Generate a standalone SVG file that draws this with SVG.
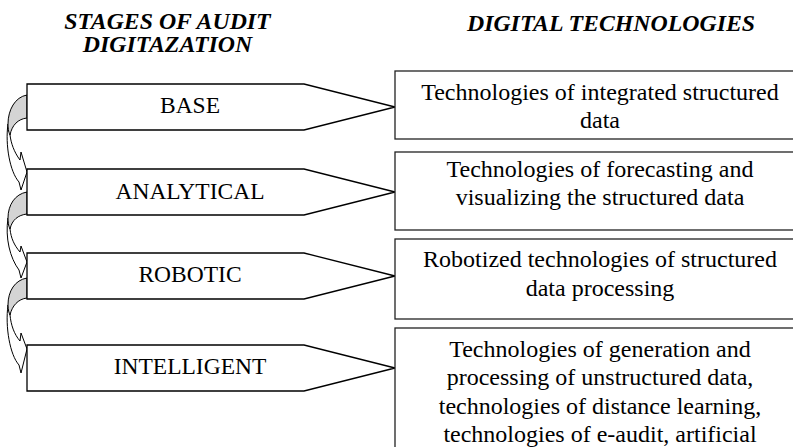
<svg xmlns="http://www.w3.org/2000/svg" width="793" height="447" viewBox="0 0 793 447">
<style>
text{font-family:'Liberation Serif','Times New Roman',serif;fill:#000;text-anchor:middle}
.hdr{font-size:23.8px;font-weight:bold;font-style:italic}
.lbl{font-size:23.5px}
.txt{font-size:24px}
.stage{fill:#fff;stroke:#000;stroke-width:1.3}
.box{fill:#fff;stroke:#222;stroke-width:1.3}
.back{fill:#d4d4d4;stroke:#000;stroke-width:1}
.front{fill:#fff;stroke:#000;stroke-width:1}
</style>
<rect width="793" height="447" fill="#fff"/>
<text class="hdr" x="167.5" y="28.5">STAGES OF AUDIT</text>
<text class="hdr" x="167.5" y="51.5">DIGITAZATION</text>
<text class="hdr" x="611" y="30.5">DIGITAL TECHNOLOGIES</text>

<g id="connectors">
  <path class="front" d="M8,124 C5,145 10,172 19,182 L21,190 L27,172 L21,152 L20,160 C14,152 11,143 10,135 Z"/>
  <path class="back" d="M27,95 C15,97 8,110 8,124 C8,130 9,133 10,135 C12,125 18,119 27,118 Z"/>
  <path class="front" d="M8,218 C5,238 10,258 19,270 L21,278 L27,262 L21,246 L20,252 C14,245 11,238 10,229 Z"/>
  <path class="back" d="M27,192 C15,194 8,205 8,218 C8,224 9,227 10,229 C12,220 18,215 27,214 Z"/>
  <path class="front" d="M8,305 C5,327 10,355 19,365 L21,373 L27,349 L21,333 L20,341 C14,334 11,325 10,315 Z"/>
  <path class="back" d="M27,278 C15,280 8,291 8,305 C8,310 9,313 10,315 C12,306 18,299 27,298 Z"/>
</g>

<g id="stage-base">
  <polygon class="stage" points="27,84 304,84 395,107 304,130 27,130"/>
  <text class="lbl" x="190" y="113">BASE</text>
</g>
<g id="stage-analytical">
  <polygon class="stage" points="27,169 304,169 395,192 304,215 27,215"/>
  <text class="lbl" x="190" y="199">ANALYTICAL</text>
</g>
<g id="stage-robotic">
  <polygon class="stage" points="27,253 304,253 395,276 304,299 27,299"/>
  <text class="lbl" x="190" y="282">ROBOTIC</text>
</g>
<g id="stage-intelligent">
  <polygon class="stage" points="27,345 304,345 395,368 304,391 27,391"/>
  <text class="lbl" x="190" y="374">INTELLIGENT</text>
</g>

<g id="tech-1">
  <rect class="box" x="395" y="71" width="410" height="68"/>
  <text class="txt" x="600" y="100">Technologies of integrated structured</text>
  <text class="txt" x="600" y="128">data</text>
</g>
<g id="tech-2">
  <rect class="box" x="395" y="152" width="410" height="78"/>
  <text class="txt" x="600" y="177">Technologies of forecasting and</text>
  <text class="txt" x="600" y="205">visualizing the structured data</text>
</g>
<g id="tech-3">
  <rect class="box" x="395" y="239" width="410" height="80"/>
  <text class="txt" x="600" y="267">Robotized technologies of structured</text>
  <text class="txt" x="600" y="296">data processing</text>
</g>
<g id="tech-4">
  <rect class="box" x="395" y="328" width="410" height="140"/>
  <text class="txt" x="600" y="357">Technologies of generation and</text>
  <text class="txt" x="600" y="385">processing of unstructured data,</text>
  <text class="txt" x="600" y="414">technologies of distance learning,</text>
  <text class="txt" x="600" y="442">technologies of e-audit, artificial</text>
</g>
</svg>
